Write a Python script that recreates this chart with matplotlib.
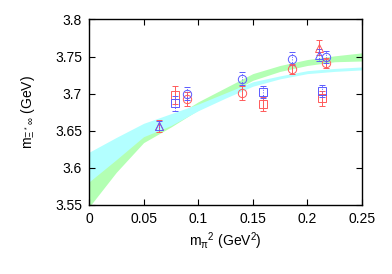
import numpy as np
import matplotlib
matplotlib.use('Agg')
import matplotlib.pyplot as plt

plt.rcParams['font.family'] = 'Liberation Sans'
plt.rcParams['mathtext.fontset'] = 'custom'
plt.rcParams['mathtext.rm'] = 'Liberation Sans'
plt.rcParams['mathtext.it'] = 'Liberation Sans'
plt.rcParams['mathtext.sf'] = 'Liberation Sans'

# fit bands
band_x = [0.0, 0.025, 0.05, 0.075, 0.1, 0.125, 0.15, 0.175, 0.2, 0.225, 0.25]
cyan_lo = [3.581, 3.611, 3.642, 3.657, 3.677, 3.694, 3.710, 3.720, 3.727, 3.730, 3.732]
cyan_hi = [3.621, 3.641, 3.660, 3.673, 3.686, 3.701, 3.716, 3.724, 3.731, 3.734, 3.736]
green_lo = [3.547, 3.594, 3.634, 3.655, 3.678, 3.698, 3.718, 3.730, 3.738, 3.743, 3.744]
green_hi = [3.595, 3.622, 3.645, 3.666, 3.689, 3.708, 3.727, 3.738, 3.746, 3.751, 3.755]

# lattice points (red: solid errors, blue: dotted errors)
red_sq_x = [0.079, 0.159, 0.213]
red_sq_y = [3.698, 3.686, 3.694]
red_sq_e = [0.012, 0.010, 0.010]
blue_sq_x = [0.079, 0.159, 0.213]
blue_sq_y = [3.687, 3.702, 3.704]
blue_sq_e = [0.010, 0.008, 0.008]

red_ci_x = [0.090, 0.140, 0.186, 0.217]
red_ci_y = [3.693, 3.701, 3.733, 3.741]
red_ci_e = [0.009, 0.009, 0.007, 0.007]
blue_ci_x = [0.090, 0.140, 0.186, 0.217]
blue_ci_y = [3.700, 3.720, 3.747, 3.749]
blue_ci_e = [0.009, 0.009, 0.009, 0.008]

red_tr_x = [0.064, 0.211]
red_tr_y = [3.656, 3.762]
red_tr_e = [0.008, 0.010]
blue_tr_x = [0.064, 0.211]
blue_tr_y = [3.657, 3.752]
blue_tr_e = [0.006, 0.008]

fig = plt.figure(figsize=(3.92, 2.74), dpi=100)
ax = fig.add_axes([0.227, 0.252, 0.6965, 0.677])

ax.fill_between(band_x, green_lo, green_hi, color='#b3ffb3', lw=0)
ax.fill_between(band_x, cyan_lo, cyan_hi, color='#b3ffff', lw=0)

red = '#ff5a5a'
blue = '#5a5aff'

def pts(x, y, e, marker, color, dotted):
    eb = ax.errorbar(x, y, yerr=e, fmt=marker, ms=6, mfc='none', mec=color,
                     mew=0.7, ecolor=color, elinewidth=0.7, capsize=2, capthick=0.7)
    if dotted:
        eb[2][0].set_linestyle(':')

pts(red_sq_x, red_sq_y, red_sq_e, 's', red, False)
pts(blue_sq_x, blue_sq_y, blue_sq_e, 's', blue, True)
pts(red_ci_x, red_ci_y, red_ci_e, 'o', red, False)
pts(blue_ci_x, blue_ci_y, blue_ci_e, 'o', blue, True)
pts(red_tr_x, red_tr_y, red_tr_e, '^', red, False)
pts(blue_tr_x, blue_tr_y, blue_tr_e, '^', blue, True)

ax.set_xlim(0, 0.25)
ax.set_ylim(3.55, 3.8)
ax.set_xticks([0, 0.05, 0.1, 0.15, 0.2, 0.25])
ax.set_xticklabels(['0', '0.05', '0.1', '0.15', '0.2', '0.25'])
ax.set_yticks([3.55, 3.6, 3.65, 3.7, 3.75, 3.8])
ax.set_yticklabels(['3.55', '3.6', '3.65', '3.7', '3.75', '3.8'])
ax.tick_params(direction='in', top=True, right=True, length=4, labelsize=10, pad=5)
for s in ax.spines.values():
    s.set_linewidth(1)

ax.set_xlabel(r'm$_\pi$$^2$ (GeV$^2$)', fontsize=10, labelpad=3)
ax.set_ylabel(r'm$_{\Xi^*\,\infty}$ (GeV)', fontsize=10, labelpad=13)

fig.savefig('out.png', dpi=100)
